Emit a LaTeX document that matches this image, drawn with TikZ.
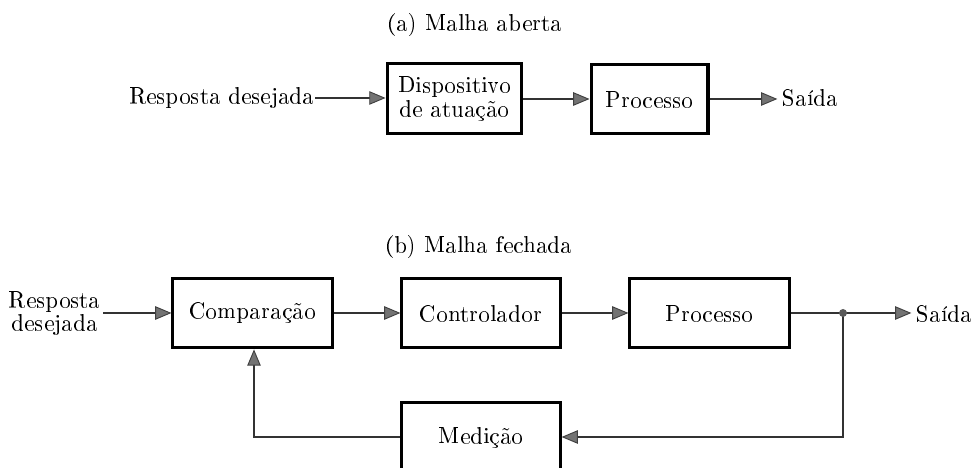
\documentclass[tikz,border=0pt]{standalone}
\usepackage[T1]{fontenc}
\usepackage{amsmath}
\usepackage{xcolor}
\usepackage{tikz}
\usetikzlibrary{arrows.meta}

\tikzset{
  bloco/.style={draw, line width=1.3pt, inner sep=0pt, minimum height=30pt},
  texto/.style={inner sep=0pt},
  seta/.style={draw=black!80, line width=1.25pt,
    -{Triangle[length=7pt,width=5.8pt,color=black!75,fill=black!55,line width=0.4pt]}},
  linha/.style={draw=black!80, line width=1.25pt}
}

\begin{document}
\begin{tikzpicture}[x=0.43pt, y=-0.43pt]
            \useasboundingbox (0,0) rectangle (971,468);

            % (a) malha aberta
            \node[texto] (tita) at (475,25) {(a) Malha aberta};
            \node[texto, anchor=east] (enta) at (315,98) {Resposta desejada};
            \node[bloco, minimum width=58pt, align=center] (disp) at (454.5,98.5) {Dispositivo\\[-2pt]de atuação};
            \node[bloco, minimum width=50.3pt] (proca) at (649.5,99) {Processo};
            \node[texto, anchor=west] (saia) at (782,98) {Saída};

            \draw[seta] (enta.east) -- (disp.west |- enta.east);
            \draw[seta] (disp.east |- proca.west) -- (proca.west);
            \draw[seta] (proca.east) -- ([xshift=-2pt]saia.west |- proca.east);

            % (b) malha fechada
            \node[texto] (titb) at (479,247) {(b) Malha fechada};
            \node[texto, anchor=east, align=center] (entb) at (101,313) {Resposta\\[-2pt]desejada};
            \node[bloco, minimum width=68.4pt] (comp) at (252.5,313) {Comparação};
            \node[bloco, minimum width=68pt] (ctrl) at (481,313) {Controlador};
            \node[bloco, minimum width=68.4pt] (procb) at (709.5,313) {Processo};
            \node[texto, anchor=west] (saib) at (916,313) {Saída};
            \node[bloco, minimum width=68pt] (med) at (481,437) {Medição};

            \coordinate (ramo) at (843,313);
            \coordinate (canto) at (843,437);
            \coordinate (volta) at (254,437);

            \draw[seta] ([xshift=1pt]entb.east) -- (comp.west);
            \draw[seta] (comp.east) -- (ctrl.west);
            \draw[seta] (ctrl.east) -- (procb.west);
            \draw[linha] (procb.east) -- (ramo);
            \draw[seta] (ramo) -- ([xshift=-2pt]saib.west);
            \draw[seta] (ramo) -- (canto) -- (med.east);
            \draw[seta] (med.west) -- (volta) -- (volta |- comp.south);
            \fill[black!65] (ramo) circle (4);
        \end{tikzpicture}
\end{document}
